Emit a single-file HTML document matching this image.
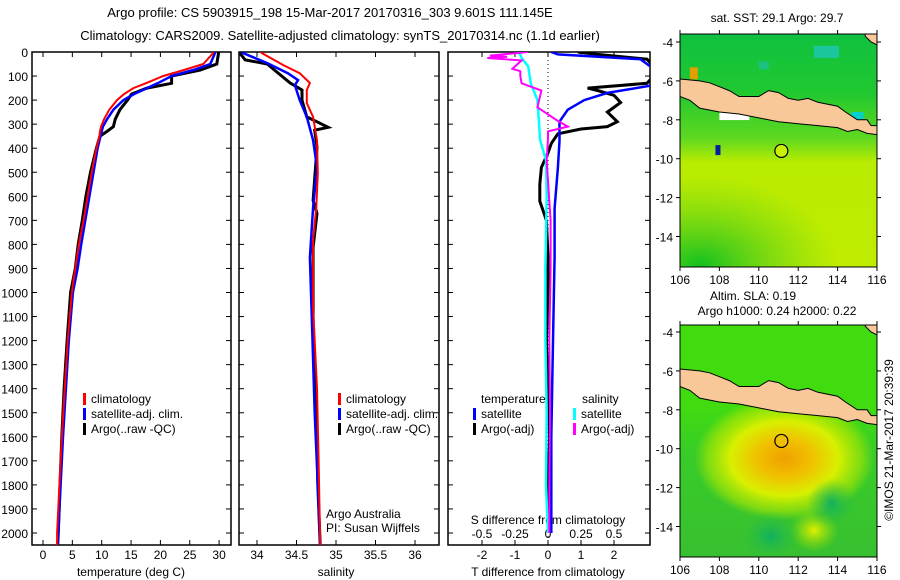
<!DOCTYPE html>
<html><head><meta charset="utf-8"><style>
body{margin:0;background:#fff;}
svg{display:block;font-family:"Liberation Sans",sans-serif;}
</style></head><body>
<svg id="chart" width="900" height="580" viewBox="0 0 900 580" xmlns="http://www.w3.org/2000/svg">
<defs>
<radialGradient id="blob" cx="0.5" cy="0.5" r="0.5"><stop offset="0" stop-color="#f0a000"/><stop offset="0.3" stop-color="#f0c000"/><stop offset="0.6" stop-color="#d8f000"/><stop offset="0.85" stop-color="#b0e800" stop-opacity="0.6"/><stop offset="1" stop-color="#a8e800" stop-opacity="0"/></radialGradient>
<radialGradient id="teal" cx="0.5" cy="0.5" r="0.5"><stop offset="0" stop-color="#10b060"/><stop offset="1" stop-color="#30c040" stop-opacity="0"/></radialGradient>
<radialGradient id="yel2" cx="0.5" cy="0.5" r="0.5"><stop offset="0" stop-color="#e0f000"/><stop offset="1" stop-color="#a0e000" stop-opacity="0"/></radialGradient>
<linearGradient id="sla" x1="0" y1="0" x2="0" y2="1"><stop offset="0" stop-color="#40dc10"/><stop offset="0.35" stop-color="#40dc10"/><stop offset="0.55" stop-color="#38cc28"/><stop offset="1" stop-color="#38c030"/></linearGradient>
<linearGradient id="sst" x1="0" y1="0" x2="0" y2="1"><stop offset="0" stop-color="#10c040"/><stop offset="0.25" stop-color="#20c830"/><stop offset="0.45" stop-color="#60d820"/><stop offset="0.55" stop-color="#b8ec00"/><stop offset="1" stop-color="#c0ec00"/></linearGradient>
<radialGradient id="sstl" cx="0.1" cy="0.9" r="0.7"><stop offset="0" stop-color="#10c020"/><stop offset="1" stop-color="#60d020" stop-opacity="0"/></radialGradient>
<clipPath id="c1"><rect x="32" y="52" width="199" height="493"/></clipPath>
<clipPath id="c2"><rect x="239" y="52" width="200" height="493"/></clipPath>
<clipPath id="c3"><rect x="448" y="52" width="202" height="493"/></clipPath>
<clipPath id="m1"><rect x="680" y="34" width="197" height="233"/></clipPath>
<clipPath id="m2"><rect x="680" y="325" width="197" height="232"/></clipPath>
</defs>
<text x="330" y="17" font-size="13" text-anchor="middle">Argo profile: CS 5903915_198 15-Mar-2017 20170316_303 9.601S 111.145E</text>
<text x="340" y="40" font-size="13" text-anchor="middle">Climatology: CARS2009. Satellite-adjusted climatology: synTS_20170314.nc (1.1d earlier)</text>
<g id="g1"></g>
<g id="g2"></g>
<g id="g3"></g>
<g id="map1"></g>
<g id="map2"></g>
<text transform="translate(893,440) rotate(-90)" font-size="12" text-anchor="middle">©IMOS 21-Mar-2017 20:39:39</text>
</svg>
<script>
// ---- data ----
const tDepth=[0,4,50,75,100,130,150,175,200,240,280,310,330,350,400,500,600,700,800,900,1000,1200,1400,1600,1800,2000,2050];
const tClim=[29.0,29.0,27.3,24,20.5,17.5,15.4,13.8,12.6,11.3,10.4,9.9,9.7,9.6,9.1,8.3,7.6,6.9,6.1,5.5,4.9,4.2,3.7,3.2,2.8,2.4,2.4];
const tSat=[29.3,29.3,28.5,25.6,21.9,19.5,17.7,15.5,13.7,12.0,10.9,10.2,10.0,9.8,9.3,8.6,7.9,7.2,6.5,5.9,5.1,4.4,3.9,3.4,3.0,2.6,2.5];
const tArgo=[29.9,29.9,29.6,26.8,21.9,21.9,17.7,15.1,14.4,13.1,12.3,12.0,10.9,9.7,9.1,8.1,7.3,6.7,6.0,5.5,4.7,4.1,3.6,3.2,2.9,2.6,2.5];
const sClimDepth=[0,4,54,88,129,158,213,270,367,504,646,783,1062,1400,1700,2050];
const sClim=[34.06,34.06,34.33,34.54,34.67,34.63,34.63,34.71,34.76,34.77,34.75,34.71,34.71,34.76,34.78,34.80];
const sSatDepth=[0,4,46,88,117,138,200,270,367,479,646,854,1171,1500,1800,2050];
const sSat=[33.82,33.82,34.13,34.39,34.52,34.48,34.54,34.63,34.71,34.76,34.71,34.67,34.70,34.73,34.77,34.80];
const sArgoDepth=[0,4,33,50,83,129,158,200,270,292,313,325,396,617,671,812,1171,1500,1800,2050];
const sArgo=[33.78,33.78,33.85,34.13,34.25,34.42,34.57,34.57,34.63,34.77,34.90,34.73,34.76,34.71,34.76,34.71,34.71,34.75,34.77,34.80];
const dTSatDepth=[0,10,30,60,100,140,170,200,240,290,370,480,650,850,1200,1600,2000];
const dTSat=[0.1,0.3,2.8,3.1,3.2,3.1,1.8,1.1,0.6,0.35,0.35,0.3,0.2,0.2,0.15,0.1,0.1];
const dTArgoDepth=[0,10,30,60,100,130,150,160,180,210,250,290,310,320,340,380,420,480,550,620,700,850,1000,1200,1400,1600,1800,2000];
const dTArgo=[0.9,1.5,3.0,3.2,3.2,3.0,1.2,1.5,2.0,2.2,1.8,2.1,1.8,1.0,0.3,0.1,0.0,-0.2,-0.25,-0.25,-0.05,0.0,0.0,-0.05,0,0.05,0,0.05];
const dSSatDepth=[0,10,25,60,130,200,283,367,450,600,900,1200,1500,1800,2000];
const dSSat=[-0.23,-0.21,-0.2,-0.15,-0.13,-0.08,-0.07,-0.06,-0.015,-0.01,-0.02,-0.02,-0.01,-0.015,0.0];
const dSArgoDepth=[0,15,20,25,35,70,80,100,130,160,230,285,310,330,360,450,620,700,900,1200,1500,1800,2000];
const dSArgo=[-0.15,-0.44,-0.31,-0.46,-0.2,-0.27,-0.21,-0.21,-0.2,-0.05,-0.08,0.07,0.15,0,0,-0.01,0.01,0.02,0.02,0.01,0.015,0.01,0.01];
const depthTicks=[0,100,200,300,400,500,600,700,800,900,1000,1100,1200,1300,1400,1500,1600,1700,1800,1900,2000];
const tTicks=[0,5,10,15,20,25,30];
const sTicks=[34,34.5,35,35.5,36];
const dTTicks=[-2,-1,0,1,2];
const dSTicks=[-0.5,-0.25,0,0.25,0.5];
const lonTicks=[106,108,110,112,114,116];
const latTicks=[-4,-6,-8,-10,-12,-14];
const argoPos=[111.145,-9.601];

const NS='http://www.w3.org/2000/svg';
function mk(parent,tag,attrs){const e=document.createElementNS(NS,tag);for(const k in attrs)e.setAttribute(k,attrs[k]);parent.appendChild(e);return e;}
const TOP=52;
const yD=d=>52+d*0.2405;
const xT=t=>43+t*5.87;
const xS=s=>257+(s-34)*79;
const xDT=v=>548+v*33;
const xDS=v=>548+v*132;

function frame(g,x0,x1,name){
  const r=mk(g,'rect',{x:x0,y:TOP,width:x1-x0,height:545-TOP,fill:'none',stroke:'#000','stroke-width':1.5});
  
  
  depthTicks.forEach(d=>{
    mk(g,'line',{x1:x0,x2:x0+5,y1:yD(d),y2:yD(d),stroke:'#000'});
    mk(g,'line',{x1:x1,x2:x1-5,y1:yD(d),y2:yD(d),stroke:'#000'});
  });
}
function line(g,xs,ds,fx,color,w,clip,name){
  const p=ds.map((d,i)=>fx(xs[i]).toFixed(1)+','+yD(d).toFixed(1)).join(' ');
  const e=mk(g,'polyline',{points:p,fill:'none',stroke:color,'stroke-width':w,'clip-path':'url(#'+clip+')','stroke-linejoin':'miter'});
  
  
}
function text(g,x,y,s,size,anchor,name,fill){
  const e=mk(g,'text',{x:x,y:y,'font-size':size,'text-anchor':anchor||'start',fill:fill||'#000'});
  e.textContent=s;
  
  
  return e;
}
function legend(g,x,y,color,label,name){
  const b=mk(g,'rect',{x:x,y:y-10,width:3,height:12,fill:color});
  
  
  text(g,x+8,y,label,12,'start',name+'-label');
}

// Panel 1
const g1=document.getElementById('g1');
frame(g1,32,231,'temperature');
depthTicks.forEach(d=>text(g1,28,yD(d)+5,String(d),12,'end','depth-tick-label'));
tTicks.forEach(t=>{mk(g1,'line',{x1:xT(t),x2:xT(t),y1:545,y2:540,stroke:'#000'});mk(g1,'line',{x1:xT(t),x2:xT(t),y1:TOP,y2:TOP+5,stroke:'#000'});text(g1,xT(t),559,String(t),12,'middle','temperature-tick-label');});
text(g1,131,576,'temperature (deg C)',12,'middle','temperature-axis-title');
line(g1,tArgo,tDepth,xT,'#000',3,'c1','temperature-argo-line');
line(g1,tSat,tDepth,xT,'#0000ff',2.5,'c1','temperature-satellite-line');
line(g1,tClim,tDepth,xT,'#ff0000',2,'c1','temperature-climatology-line');
legend(g1,83,403,'#ff0000','climatology','legend-climatology');
legend(g1,83,418,'#0000ff','satellite-adj. clim.','legend-satellite');
legend(g1,83,433,'#000','Argo(..raw -QC)','legend-argo');

// Panel 2
const g2=document.getElementById('g2');
frame(g2,239,439,'salinity');
sTicks.forEach(s=>{mk(g2,'line',{x1:xS(s),x2:xS(s),y1:545,y2:540,stroke:'#000'});mk(g2,'line',{x1:xS(s),x2:xS(s),y1:TOP,y2:TOP+5,stroke:'#000'});text(g2,xS(s),559,String(s),12,'middle','salinity-tick-label');});
text(g2,336,576,'salinity',12,'middle','salinity-axis-title');
line(g2,sArgo,sArgoDepth,xS,'#000',3,'c2','salinity-argo-line');
line(g2,sSat,sSatDepth,xS,'#0000ff',2.5,'c2','salinity-satellite-line');
line(g2,sClim,sClimDepth,xS,'#ff0000',2,'c2','salinity-climatology-line');
legend(g2,338,403,'#ff0000','climatology','legend-climatology-2');
legend(g2,338,418,'#0000ff','satellite-adj. clim.','legend-satellite-2');
legend(g2,338,433,'#000','Argo(..raw -QC)','legend-argo-2');
text(g2,326,518,'Argo Australia',12,'start','argo-australia-note');
text(g2,326,532,'PI: Susan Wijffels',12,'start','pi-note');

// Panel 3
const g3=document.getElementById('g3');
frame(g3,448,650,'difference');
const dl=mk(g3,'line',{x1:548,x2:548,y1:TOP,y2:545,stroke:'#000','stroke-dasharray':'1,3'});


dTTicks.forEach(v=>{mk(g3,'line',{x1:xDT(v),x2:xDT(v),y1:545,y2:540,stroke:'#000'});text(g3,xDT(v),559,String(v),12,'middle','t-diff-tick-label');});
dSTicks.forEach(v=>{mk(g3,'line',{x1:xDS(v),x2:xDS(v),y1:545,y2:540,stroke:'#000'});mk(g3,'line',{x1:xDS(v),x2:xDS(v),y1:TOP,y2:TOP+5,stroke:'#000'});text(g3,xDS(v),538,String(v),12,'middle','s-diff-tick-label');});
text(g3,548,576,'T difference from climatology',12,'middle','t-diff-axis-title');
text(g3,548,524,'S difference from climatology',12,'middle','s-diff-axis-title');
line(g3,dTArgo,dTArgoDepth,xDT,'#000',3,'c3','t-diff-argo-line');
line(g3,dTSat,dTSatDepth,xDT,'#0000ff',2.5,'c3','t-diff-satellite-line');
line(g3,dSSat,dSSatDepth,xDS,'#00ffff',2.5,'c3','s-diff-satellite-line');
line(g3,dSArgo,dSArgoDepth,xDS,'#ff00ff',2,'c3','s-diff-argo-line');
text(g3,481,403,'temperature',12,'start','legend-temperature-heading');
text(g3,582,403,'salinity',12,'start','legend-salinity-heading');
legend(g3,473,418,'#0000ff','satellite','legend-t-satellite');
legend(g3,473,433,'#000','Argo(-adj)','legend-t-argo');
legend(g3,573,418,'#00ffff','satellite','legend-s-satellite');
legend(g3,573,433,'#ff00ff','Argo(-adj)','legend-s-argo');

// Maps
const javaTop=[[106,-5.9],[107,-6.0],[107.5,-6.1],[108,-6.3],[108.5,-6.5],[109,-6.8],[110,-6.8],[110.5,-6.5],[111,-6.6],[111.5,-6.9],[112,-7.0],[112.5,-6.9],[113,-7.1],[114,-7.3],[114.4,-7.6],[115,-8.0],[115.5,-8.0],[115.7,-8.3],[116.3,-8.3]];
const javaBot=[[116.3,-8.8],[115.5,-8.7],[115,-8.5],[114.5,-8.6],[114,-8.4],[113,-8.3],[112,-8.2],[111,-8.1],[110,-7.9],[109,-7.7],[108,-7.6],[107,-7.4],[106.5,-7.0],[106,-6.8]];
const kalimantan=[[115.4,-3.5],[116.3,-3.5],[116.3,-4.3],[115.7,-4.0],[115.4,-3.7]];
function map(id,y0,yTop,title1,title2,isSST){
  const g=document.getElementById(id);
  const X=lon=>680+(lon-106)*19.7;
  const Y=lat=>y0+(-4-lat)*19.45;
  const clip=isSST?'m1':'m2';
  const bg=mk(g,'g',{'clip-path':'url(#'+clip+')'});
  if(isSST){
    mk(bg,'rect',{x:680,y:yTop,width:197,height:233,fill:'url(#sst)'});
    mk(bg,'rect',{x:680,y:Y(-9.5),width:197,height:130,fill:'url(#sstl)'});
    mk(bg,'rect',{x:X(112.8),y:Y(-4.2),width:25,height:12,fill:'#20c8c8',opacity:0.7});
    mk(bg,'rect',{x:X(110),y:Y(-5),width:10,height:8,fill:'#20c0a0',opacity:0.7});
    mk(bg,'rect',{x:X(114.7),y:Y(-7.6),width:12,height:14,fill:'#00d0d0'});
    mk(bg,'rect',{x:X(107.8),y:Y(-9.3),width:5,height:10,fill:'#0020a0'});
    mk(bg,'rect',{x:X(106.5),y:Y(-5.3),width:8,height:12,fill:'#e0a000'});
    mk(bg,'rect',{x:X(108.8),y:Y(-6.8),width:12,height:10,fill:'#fff'});
    mk(bg,'rect',{x:X(108),y:Y(-7.5),width:30,height:10,fill:'#fff'});
  } else {
    mk(bg,'rect',{x:680,y:yTop,width:197,height:232,fill:'url(#sla)'});
    mk(bg,'ellipse',{cx:X(111.3),cy:Y(-10.5),rx:90,ry:62,fill:'url(#blob)'});
    mk(bg,'ellipse',{cx:X(112.8),cy:Y(-14.2),rx:25,ry:22,fill:'url(#yel2)'});
    mk(bg,'ellipse',{cx:X(113.7),cy:Y(-12.8),rx:25,ry:25,fill:'url(#teal)'});
    mk(bg,'ellipse',{cx:X(110.6),cy:Y(-14.5),rx:30,ry:25,fill:'url(#teal)'});
  }
  const pts=javaTop.concat(javaBot).map(p=>X(p[0]).toFixed(1)+','+Y(p[1]).toFixed(1)).join(' ');
  const land=mk(bg,'polygon',{points:pts,fill:'#f8c898',stroke:'#000','stroke-width':1});
  
  
  mk(bg,'polygon',{points:kalimantan.map(p=>X(p[0]).toFixed(1)+','+Y(p[1]).toFixed(1)).join(' '),fill:'#f8c898',stroke:'#000'});
  const fr=mk(g,'rect',{x:680,y:yTop,width:197,height:isSST?233:232,fill:'none',stroke:'#000'});
  
  
  const yb=yTop+(isSST?233:232);
  lonTicks.forEach(l=>{mk(g,'line',{x1:X(l),x2:X(l),y1:yb,y2:yb+4,stroke:'#000'});mk(g,'line',{x1:X(l),x2:X(l),y1:yTop,y2:yTop-4,stroke:'#000'});text(g,X(l),yb+17,String(l),12,'middle','lon-tick-label');});
  latTicks.forEach(l=>{mk(g,'line',{x1:676,x2:680,y1:Y(l),y2:Y(l),stroke:'#000'});mk(g,'line',{x1:877,x2:881,y1:Y(l),y2:Y(l),stroke:'#000'});text(g,673,Y(l)+5,String(l),12,'end','lat-tick-label');});
  const c=mk(g,'circle',{cx:X(argoPos[0]),cy:Y(argoPos[1]),r:6.5,fill:isSST?'#c8f000':'#f0c000',stroke:'#000','stroke-width':1.2});
  
  
  if(isSST){text(g,777,22,title1,12,'middle','sst-map-title');}
  else{text(g,753,300,title1,12,'middle','sla-map-title');text(g,777,315,title2,12,'middle','sla-map-subtitle');}
}
map('map1',42,34,'sat. SST: 29.1 Argo: 29.7','',true);
map('map2',332,325,'Altim. SLA: 0.19','Argo h1000: 0.24 h2000: 0.22',false);
</script>
</body></html>
